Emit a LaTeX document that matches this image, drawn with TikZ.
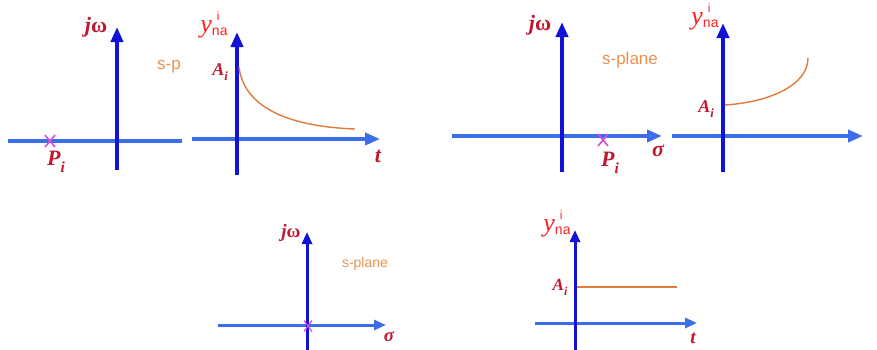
\documentclass[tikz,border=0pt]{standalone}
\usepackage{fontspec}
\setmainfont{Liberation Serif}
\setsansfont{Liberation Sans}
\usepackage{xcolor}
\definecolor{axisBlue}{HTML}{1212D6}
\definecolor{axisLight}{HTML}{3C6EEA}
\definecolor{labelRed}{HTML}{C0182E}
\definecolor{signalRed}{HTML}{FF1F1F}
\definecolor{curveOrange}{HTML}{E07B39}
\definecolor{planeOrange}{HTML}{E8914F}
\definecolor{poleMagenta}{HTML}{D64BE0}
\usetikzlibrary{
    arrows.meta,
    shapes.misc,
    positioning
}
% response label y_na^i
\newcommand{\yna}{%
    {\fontsize{26}{26}\selectfont\itshape y}%
    \rlap{\hspace{5pt}\raisebox{12pt}{\sffamily\fontsize{12}{12}\selectfont i}}%
    \raisebox{-3pt}{\sffamily\fontsize{14}{14}\selectfont na}}
% bold italic symbol with subscript
\newcommand{\symsub}[2]{#1\raisebox{-0.3em}{\fontsize{0.7em}{0.7em}\selectfont #2}}
\tikzset{
    % vertical axis - dark blue
    axis v/.style={
        draw=axisBlue,
        line width=4pt,
        -{Triangle[length=15pt, width=12pt]},
    },
    % horizontal axis - lighter blue
    axis h/.style={
        draw=axisLight,
        line width=4pt,
        -{Triangle[length=15pt, width=12pt]},
    },
    % thinner axes for the lower row
    small axis/.style={
        line width=3pt,
        -{Triangle[length=12pt, width=10pt]},
    },
    % response curve
    curve/.style={
        draw=curveOrange,
        line width=1.4pt,
    },
    % pole marker
    pole/.style={
        cross out,
        draw=poleMagenta,
        line width=1.6pt,
        minimum width=10pt,
        minimum height=12pt,
        inner sep=0pt,
        outer sep=0pt,
    },
    % axis and value labels
    sym label/.style={
        font=\fontsize{22}{22}\selectfont\bfseries\itshape,
        text=labelRed,
        inner sep=0pt,
    },
    value label/.style={
        sym label,
        font=\fontsize{18}{18}\selectfont\bfseries\itshape,
    },
    sym small/.style={
        sym label,
        font=\fontsize{19}{19}\selectfont\bfseries\itshape,
    },
    value small/.style={
        sym label,
        font=\fontsize{17}{17}\selectfont\bfseries\itshape,
    },
    resp label/.style={
        text=signalRed,
        inner sep=0pt,
    },
    plane label/.style={
        font=\sffamily\fontsize{17}{17}\selectfont,
        text=planeOrange,
        inner sep=0pt,
    },
}

\begin{document}
\begin{tikzpicture}[x=1pt, y=-1pt]
    \useasboundingbox (0,0) rectangle (877,349);

    % --- top left: pole on the negative real axis
    \coordinate (sL1) at (8,141);
    \coordinate (sR1) at (182,141);
    \coordinate (sB1) at (117,170);
    \coordinate (sT1) at (117,27);
    \draw [axis h, -] (sL1) -- (sR1);
    \draw [axis v] (sB1) -- (sT1);
    \node (jw1) [sym label] at (96,27) {j\textup{ω}};
    \node (sp1) [plane label] at (169,67) {s-p};
    \node (pole1) [pole] at (50,141) {};
    \node (pi1) [sym label] at (56,162) {\symsub{P}{i}};

    % --- decaying response
    \coordinate (tL1) at (192,139);
    \coordinate (tR1) at (380,139);
    \coordinate (yB1) at (237,175);
    \coordinate (yT1) at (237,32);
    \draw [axis h] (tL1) -- (tR1);
    \draw [axis v] (yB1) -- (yT1);
    \node (y1) [resp label] at (214,25) {\yna};
    \node (a1) [value label] at (220,72) {\symsub{A}{i}};
    \coordinate (c1s) at (239,67);
    \coordinate (c1e) at (355,129);
    \draw [curve] (c1s) .. controls (243,100) and (275,126) .. (c1e);
    \node (t1) [sym label] at (378,156) {t};

    % --- top right: pole on the positive real axis
    \coordinate (sL2) at (452,136);
    \coordinate (sR2) at (662,136);
    \coordinate (sB2) at (562,172);
    \coordinate (sT2) at (562,22);
    \draw [axis h] (sL2) -- (sR2);
    \draw [axis v] (sB2) -- (sT2);
    \node (jw2) [sym label] at (540,25) {j\textup{ω}};
    \node (sp2) [plane label] at (630,60) {s-plane};
    \node (pole2) [pole] at (603,140) {};
    \node (pi2) [sym label] at (610,163) {\symsub{P}{i}};
    \node (sg2) [sym label] at (658,151) {σ};

    % --- growing response
    \coordinate (tL2) at (672,136);
    \coordinate (tR2) at (863,136);
    \coordinate (yB2) at (723,172);
    \coordinate (yT2) at (723,23);
    \draw [axis h] (tL2) -- (tR2);
    \draw [axis v] (yB2) -- (yT2);
    \node (y2) [resp label] at (705,17) {\yna};
    \node (a2) [value label] at (706,109) {\symsub{A}{i}};
    \coordinate (c2s) at (725,105);
    \coordinate (c2e) at (808,58);
    \draw [curve] (c2s) .. controls (770,102) and (808,85) .. (c2e);
    \node (t2) [sym label] at (882,156) {t};

    % --- bottom left: pole at the origin
    \coordinate (sL3) at (218,325);
    \coordinate (sR3) at (386,325);
    \coordinate (sB3) at (307,352);
    \coordinate (sT3) at (307,232);
    \draw [axis h, small axis] (sL3) -- (sR3);
    \draw [axis v, small axis] (sB3) -- (sT3);
    \node (jw3) [sym small] at (291,233) {j\textup{ω}};
    \node (sp3) [plane label, font=\sffamily\fontsize{14}{14}\selectfont] at (365,264) {s-plane};
    \node (pole3) [pole, minimum width=8pt, minimum height=11pt, line width=1.2pt] at (308,326) {};
    \node (sg3) [sym small] at (389,337) {σ};

    % --- constant response
    \coordinate (tL3) at (535,323);
    \coordinate (tR3) at (697,323);
    \coordinate (yB3) at (575,352);
    \coordinate (yT3) at (575,230);
    \draw [axis h, small axis] (tL3) -- (tR3);
    \draw [axis v, small axis] (yB3) -- (yT3);
    \node (y3) [resp label] at (557,224) {\yna};
    \node (a3) [value small] at (560,287) {\symsub{A}{i}};
    \coordinate (c3s) at (577,287);
    \coordinate (c3e) at (677,287);
    \draw [curve] (c3s) -- (c3e);
    \node (t3) [sym small] at (693,338) {t};
\end{tikzpicture}
\end{document}
